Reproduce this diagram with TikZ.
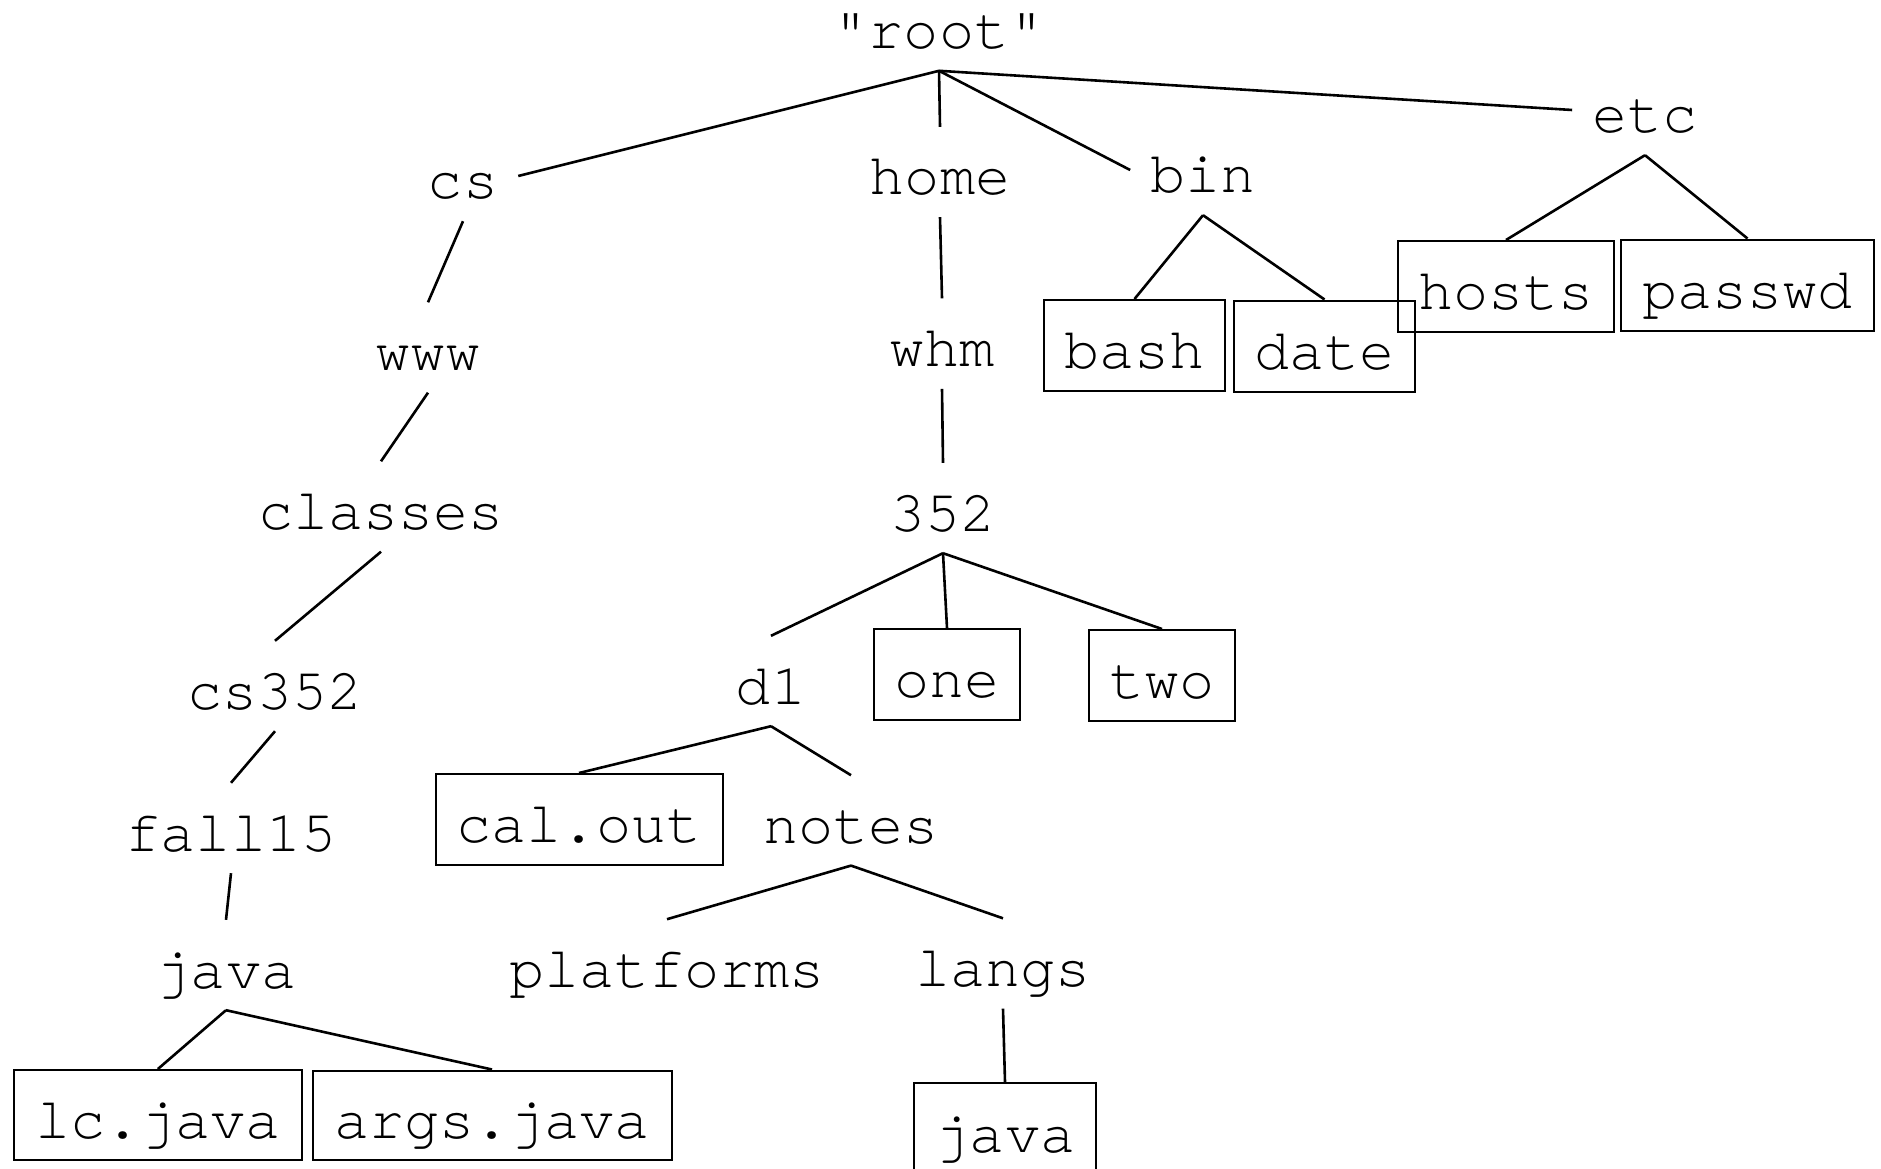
\documentclass[tikz,border=0pt]{standalone}
\usepackage{fontspec}
\setmonofont{TeX Gyre Cursor}
\begin{document}
\begin{tikzpicture}[x=1pt,y=-1pt,
  every node/.style={font=\ttfamily\fontsize{58.5}{60}\selectfont},
  dir/.style={inner xsep=20pt, inner ysep=0pt, text height=68pt, text depth=22pt, anchor=base},
  file/.style={draw, line width=2pt, inner sep=0pt, text height=46pt, text depth=0pt},
  link/.style={line width=2.6pt}]
\useasboundingbox (0,0) rectangle (1881,1169);
% directories
\node[dir] (root) at (939,48.6) {"root"};
\node[dir] (cs) at (463,199) {cs};
\node[dir] (home) at (940,195) {home};
\node[dir] (bin) at (1203,193) {bin};
\node[dir] (etc) at (1645,133) {etc};
\node[dir] (www) at (428,370.5) {www};
\node[dir] (whm) at (942,366.6) {whm};
\node[dir] (classes) at (381,529.5) {classes};
\node[dir] (n352) at (943,531) {352};
\node[dir] (cs352) at (275,709) {cs352};
\node[dir] (d1) at (771,704) {d1};
\node[dir] (fall15) at (231,851) {fall15};
\node[dir] (notes) at (851,843.4) {notes};
\node[dir] (java1) at (226,988) {java};
\node[dir] (platforms) at (667,987.4) {platforms};
\node[dir] (langs) at (1003,986.5) {langs};
% files
\node[file, minimum width=181pt, minimum height=91pt] (bash) at (1134.5,345.5) {bash};
\node[file, minimum width=181pt, minimum height=91pt] (date) at (1324.5,346) {date};
\node[file, minimum width=216pt, minimum height=91pt] (hosts) at (1506,286.5) {hosts};
\node[file, minimum width=253pt, minimum height=91pt] (passwd) at (1747.5,285) {passwd};
\node[file, minimum width=146pt, minimum height=90.6pt] (one) at (947,674.3) {one};
\node[file, minimum width=146pt, minimum height=91.4pt] (two) at (1162,675.7) {two};
\node[file, minimum width=287pt, minimum height=91pt] (calout) at (579,819.5) {cal.out};
\node[file, minimum width=287.7pt, minimum height=90pt] (lcjava) at (157.9,1115) {lc.java};
\node[file, minimum width=359pt, minimum height=89.5pt] (argsjava) at (492,1115.25) {args.java};
\node[file, minimum width=182pt, minimum height=92pt] (java2) at (1005,1129) {java};
% connectors
\draw[link] (root.south) -- (cs.east);
\draw[link] (root.south) -- (home.north);
\draw[link] (root.south) -- (bin.west);
\draw[link] (root.south) -- (etc.west);
\draw[link] (cs.south) -- (www.north);
\draw[link] (www.south) -- (classes.north);
\draw[link] (classes.south) -- (cs352.north);
\draw[link] (cs352.south) -- (fall15.north);
\draw[link] (fall15.south) -- (java1.north);
\draw[link] (java1.south) -- (lcjava.north);
\draw[link] (java1.south) -- (argsjava.north);
\draw[link] (home.south) -- (whm.north);
\draw[link] (whm.south) -- (n352.north);
\draw[link] (n352.south) -- (d1.north);
\draw[link] (n352.south) -- (one.north);
\draw[link] (n352.south) -- (two.north);
\draw[link] (d1.south) -- (calout.north);
\draw[link] (d1.south) -- (notes.north);
\draw[link] (notes.south) -- (platforms.north);
\draw[link] (notes.south) -- (langs.north);
\draw[link] (langs.south) -- (java2.north);
\draw[link] (bin.south) -- (bash.north);
\draw[link] (bin.south) -- (date.north);
\draw[link] (etc.south) -- (hosts.north);
\draw[link] (etc.south) -- (passwd.north);
\end{tikzpicture}
\end{document}
